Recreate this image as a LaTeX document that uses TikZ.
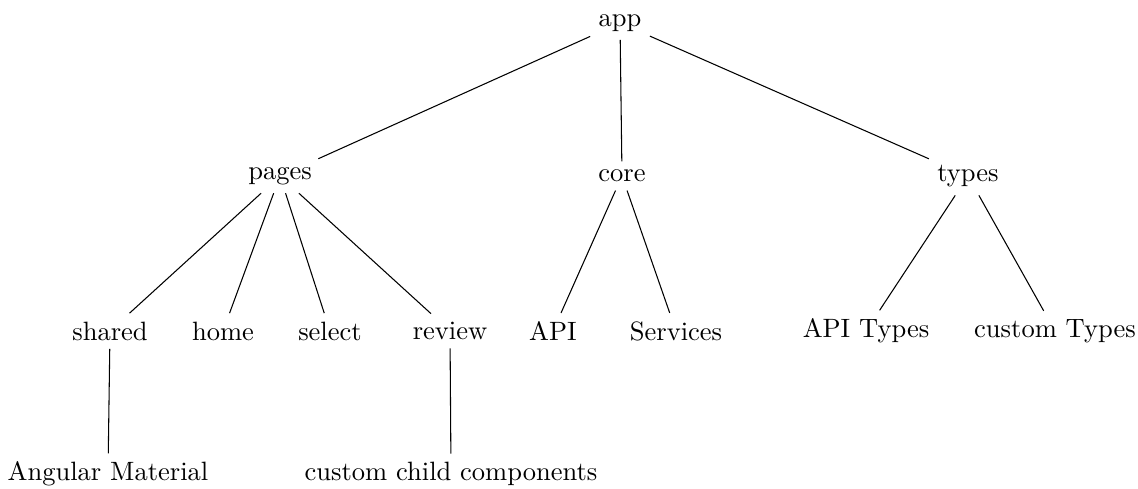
\documentclass[tikz,border=0pt]{standalone}
\begin{document}
\begin{tikzpicture}[x=0.377pt,y=-0.377pt,
  tn/.style={inner sep=3pt},
  edge/.style={draw=black,line width=0.4pt}]
\useasboundingbox (0,0) rectangle (1138,489);
\node[tn] (app) at (620,23) {app};
\node[tn] (pages) at (280,176) {pages};
\node[tn] (core) at (622,176) {core};
\node[tn] (types) at (968,176) {types};
\node[tn] (shared) at (110,331) {shared};
\node[tn] (home) at (223,331) {home};
\node[tn] (select) at (330,331) {select};
\node[tn] (review) at (450,331) {review};
\node[tn] (api) at (553,331) {API};
\node[tn] (services) at (676,331) {Services};
\node[tn] (apitypes) at (866,331) {API Types};
\node[tn] (customtypes) at (1055,331) {custom Types};
\node[tn] (angular) at (108,474) {Angular Material};
\node[tn] (child) at (451,474) {custom child components};
\draw[edge] (app) -- (pages);
\draw[edge] (app) -- (core);
\draw[edge] (app) -- (types);
\draw[edge] (pages) -- (shared);
\draw[edge] (pages) -- (home);
\draw[edge] (pages) -- (select);
\draw[edge] (pages) -- (review);
\draw[edge] (core) -- (api);
\draw[edge] (core) -- (services);
\draw[edge] (types) -- (apitypes);
\draw[edge] (types) -- (customtypes);
\draw[edge] (shared) -- (angular);
\draw[edge] (review) -- (child);
\end{tikzpicture}
\end{document}
